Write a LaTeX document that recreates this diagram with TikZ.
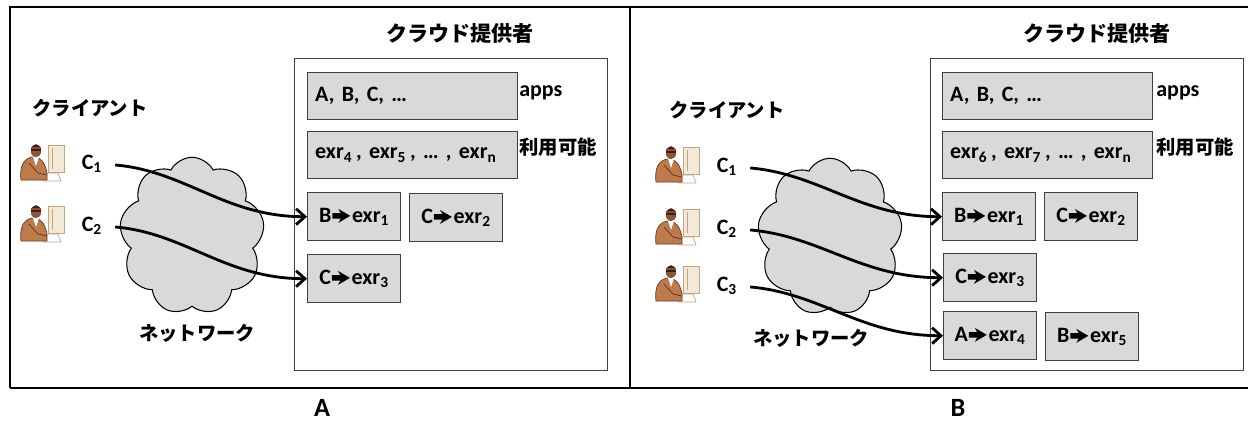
\documentclass[tikz,border=0pt]{standalone}
\usepackage{fontspec}
\setmainfont{Carlito}[BoldFont={Carlito Bold}]
\newfontfamily\jpfont{Noto Sans CJK JP}
\usepackage{xcolor}
\definecolor{boxgray}{RGB}{217,217,217}
\definecolor{edgegray}{RGB}{64,64,64}
\definecolor{suitbrown}{RGB}{190,122,74}
\definecolor{skinbrown}{RGB}{140,88,56}
\definecolor{darkhair}{RGB}{50,36,28}
\definecolor{bandred}{RGB}{170,60,45}
\definecolor{screenbeige}{RGB}{244,232,214}
\definecolor{screenedge}{RGB}{196,164,128}
\usepackage{tikz}
\usetikzlibrary{arrows.meta, positioning, shapes.symbols}

% heavy arrow used inside the slot labels
\newcommand{\goesto}{\kern0.5pt\tikz[baseline=-0.6ex]
  \fill (0,-0.055cm) -- (0.17cm,-0.055cm) -- (0.12cm,-0.14cm) -- (0.36cm,0)
        -- (0.12cm,0.14cm) -- (0.17cm,0.055cm) -- (0,0.055cm) -- cycle;\kern1pt}

\tikzset{
  frameline/.style={line width=1.7pt},
  provbox/.style={draw=edgegray, line width=0.7pt, anchor=north west,
                  minimum width=6.26cm, minimum height=6.24cm},
  listbox/.style={draw=edgegray, fill=boxgray, line width=0.8pt, anchor=north west,
                  text width=3.9cm, align=left, inner xsep=0.15cm,
                  minimum height=0.94cm, font=\bfseries\fontsize{12.5}{14}\selectfont},
  slotbox/.style={draw=edgegray, fill=boxgray, line width=0.8pt, anchor=north west,
                  minimum width=1.86cm, minimum height=0.96cm, inner sep=1pt,
                  font=\bfseries\fontsize{12.5}{14}\selectfont},
  titletext/.style={font=\jpfont\bfseries\fontsize{12}{14}\selectfont},
  jplabel/.style={font=\jpfont\bfseries\fontsize{11}{13}\selectfont},
  sidelabel/.style={anchor=west, inner sep=0pt, font=\bfseries\fontsize{12.5}{14}\selectfont},
  clabel/.style={inner sep=1pt, font=\bfseries\fontsize{12.5}{14}\selectfont},
  network/.style={cloud, cloud puffs=9, cloud puff arc=125, aspect=0.92,
                  draw=black, fill=boxgray, line width=0.6pt,
                  minimum width=2.9cm, minimum height=3.15cm},
  flow/.style={-{Straight Barb[length=5pt,width=9pt]}, line width=1.6pt,
               shorten <=0.22cm},
  client/.pic={
    % screen and keyboard
    \draw[screenedge, fill=screenbeige, line width=0.4pt] (5,-16) rectangle (21,11);
    \draw[screenedge, line width=0.4pt] (9,-13) -- (9,8);
    \draw[screenedge, fill=white, line width=0.4pt] (-3,12) -- (15,12) -- (18,20) -- (0,20) -- cycle;
    % man at the desk
    \draw[skinbrown!70!black, fill=suitbrown, line width=0.4pt]
      (-22,19) .. controls (-24,4) and (-18,-4) .. (-9,-4)
      .. controls (-2,-4) and (2,2) .. (4,12) -- (4,19) -- cycle;
    \draw[skinbrown!60!black, line width=0.4pt] (-14,2) -- (-5,12) -- (4,14);
    \fill[white] (-10,-4) -- (-7,5) -- (-4,-4) -- cycle;
    \draw[skinbrown!70!black, line width=0.3pt, fill=skinbrown] (-7,-10) ellipse (4.8 and 5.8);
    \fill[darkhair] (-11.8,-10) .. controls (-11.8,-19) and (-2.2,-19) .. (-2.2,-10) -- cycle;
    \draw[bandred, line width=1pt] (-12,-13) -- (-2,-13);
  }
}

\begin{document}
\begin{tikzpicture}[x=0.02cm, y=-0.02cm]
  \useasboundingbox (0,0) rectangle (1248,423);
  \clip (0,0) rectangle (1248,423);

  % outer frame, both halves
  \draw[frameline] (10,388) -- (10,7) -- (1260,7);
  \draw[frameline] (10,388) -- (1260,388);
  \draw[frameline] (630,7) -- (630,388);

  %% ---------- A ----------
  \node[titletext] (a-title) at (460,33) {クラウド提供者};
  \node[provbox] (a-prov) at (294,58) {};
  \node[listbox] (a-apps) at (307,72) {A, B, C, …};
  \node[listbox] (a-free) at (307,131) {exr\textsubscript{4}\,, exr\textsubscript{5}\,, … , exr\textsubscript{n}};
  \node[sidelabel] (a-appslbl) at (519,93) {apps};
  \node[sidelabel, font=\jpfont\bfseries\fontsize{11}{13}\selectfont] (a-freelbl) at (519,147) {利用可能};
  \node[slotbox] (a-b1) at (307,192) {B\goesto exr\textsubscript{1}};
  \node[slotbox] (a-c2) at (409,193) {C\goesto exr\textsubscript{2}};
  \node[slotbox] (a-c3) at (307,254) {C\goesto exr\textsubscript{3}};

  \node[jplabel] (a-clients) at (90,108) {クライアント};
  \pic at (43,161) {client};
  \pic at (43,222) {client};
  \node[clabel] (a-c1lbl) at (92,164) {C\textsubscript{1}};
  \node[clabel] (a-c2lbl) at (92,226) {C\textsubscript{2}};

  \node[network] (a-net) at (192,236) {};
  \node[jplabel] (a-netlbl) at (197,333) {ネットワーク};

  \draw[flow] (a-c1lbl.east) to[out=-5, in=180] (a-b1.west);
  \draw[flow] (a-c2lbl.east) to[out=-5, in=180] (a-c3.west);

  \node[font=\bfseries\fontsize{15}{17}\selectfont] (a-tag) at (322,408) {A};

  %% ---------- B ----------
  \begin{scope}[shift={(636,0)}]
    \node[titletext] (b-title) at (461,33) {クラウド提供者};
    \node[provbox] (b-prov) at (294,58) {};
    \node[listbox] (b-apps) at (306,72) {A, B, C, …};
    \node[listbox] (b-free) at (306,131) {exr\textsubscript{6}\,, exr\textsubscript{7}\,, … , exr\textsubscript{n}};
    \node[sidelabel] (b-appslbl) at (520,93) {apps};
    \node[sidelabel, font=\jpfont\bfseries\fontsize{11}{13}\selectfont] (b-freelbl) at (520,147) {利用可能};
    \node[slotbox] (b-b1) at (306,192) {B\goesto exr\textsubscript{1}};
    \node[slotbox] (b-c2) at (408,192) {C\goesto exr\textsubscript{2}};
    \node[slotbox] (b-c3) at (307,253) {C\goesto exr\textsubscript{3}};
    \node[slotbox] (b-a4) at (307,311) {A\goesto exr\textsubscript{4}};
    \node[slotbox] (b-b5) at (409,312) {B\goesto exr\textsubscript{5}};

    \node[jplabel] (b-clients) at (91,110) {クライアント};
    \pic at (42,163) {client};
    \pic at (42,225) {client};
    \pic at (42,282) {client};
    \node[clabel] (b-c1lbl) at (91,167) {C\textsubscript{1}};
    \node[clabel] (b-c2lbl) at (91,229) {C\textsubscript{2}};
    \node[clabel] (b-c3lbl) at (91,286) {C\textsubscript{3}};

    \node[network] (b-net) at (194,237) {};
    \node[jplabel] (b-netlbl) at (175,338) {ネットワーク};

    \draw[flow] (b-c1lbl.east) to[out=-5, in=180] (b-b1.west);
    \draw[flow] (b-c2lbl.east) to[out=-5, in=180] (b-c3.west);
    \draw[flow] (b-c3lbl.east) to[out=-5, in=180] (b-a4.west);

    \node[font=\bfseries\fontsize{15}{17}\selectfont] (b-tag) at (322,408) {B};
  \end{scope}
\end{tikzpicture}
\end{document}
